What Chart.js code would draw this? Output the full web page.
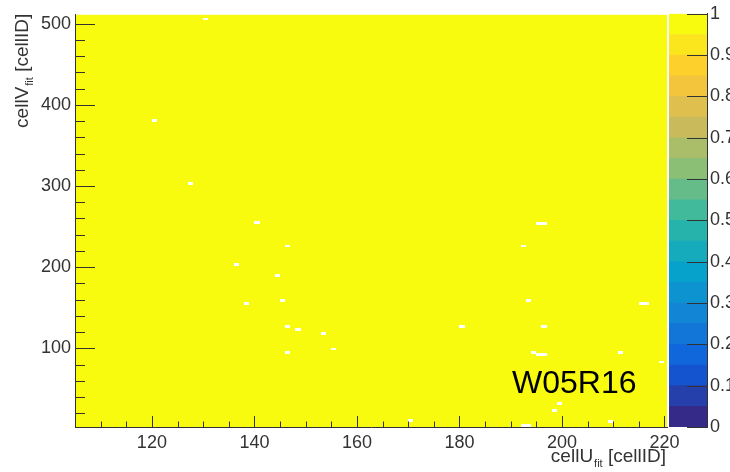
<!DOCTYPE html>
<html>
<head>
<meta charset="utf-8">
<script src="https://cdn.jsdelivr.net/npm/chart.js"></script>
<style>
body { margin: 0; background: #fff; }
#wrap { position: relative; width: 730px; height: 472px; }
#main { position: absolute; left: 0; top: 0; }
#zbar { position: absolute; left: 660px; top: 0; }
</style>
</head>
<body>
<div id="wrap">
  <canvas id="main" width="730" height="472"></canvas>
  <canvas id="zbar" width="70" height="472"></canvas>
</div>
<script>
// axis ticks
var xTicks = [120, 140, 160, 180, 200, 220];
var yTicks = [100, 200, 300, 400, 500];
var zTicks = [0, 0.1, 0.2, 0.3, 0.4, 0.5, 0.6, 0.7, 0.8, 0.9, 1];
var zTickLabels = ["0", "0.1", "0.2", "0.3", "0.4", "0.5", "0.6", "0.7", "0.8", "0.9", "1"];

// titles (main, subscript, rest)
var xTitle = ["cellU", "fit", " [cellID]"];
var yTitle = ["cellV", "fit", " [cellID]"];
var tag = "W05R16";

// every live cell reads 1, dead cells are empty
var liveValue = 1;
var deadU = [130, 120, 127, 140, 146, 136, 144, 145, 138, 146, 148, 153, 155, 146,
             195, 196, 192, 193, 215, 216, 180, 196, 194, 195, 196, 211, 219, 199,
             198, 170, 192, 193, 209];
var deadV = [505, 380, 302, 254, 225, 202, 189, 158, 154, 126, 122, 117, 98, 94,
             253, 253, 225, 158, 154, 154, 126, 126, 94, 91, 91, 94, 82, 31,
             22, 10, 4, 4, 9];
var nLevels = 20;

// kBird palette
var bird = [
  [0, 53, 42, 135], [0.125, 15, 92, 221], [0.25, 20, 129, 214], [0.375, 6, 164, 202],
  [0.5, 46, 183, 164], [0.625, 135, 191, 119], [0.75, 209, 187, 89], [0.875, 254, 200, 50],
  [1, 249, 251, 14]
];
function birdColor(t) {
  for (var i = 1; i < bird.length; i++) {
    if (t <= bird[i][0]) {
      var a = bird[i - 1], b = bird[i];
      var f = (t - a[0]) / (b[0] - a[0]);
      var c = [1, 2, 3].map(function (k) { return Math.round(a[k] + f * (b[k] - a[k])); });
      return "rgb(" + c.join(",") + ")";
    }
  }
  return "rgb(249,251,14)";
}

Chart.defaults.font.family = '"Liberation Sans", Arial, sans-serif';
Chart.defaults.font.size = 18;
Chart.defaults.color = "#333";

function drawTitle(ctx, parts) {
  ctx.font = '19px "Liberation Sans", Arial, sans-serif';
  var w0 = ctx.measureText(parts[0]).width;
  var w2 = ctx.measureText(parts[2]).width;
  ctx.font = '11px "Liberation Sans", Arial, sans-serif';
  var w1 = ctx.measureText(parts[1]).width;
  return {
    width: w0 + w1 + w2,
    draw: function () {
      ctx.textAlign = "left";
      ctx.textBaseline = "alphabetic";
      ctx.font = '19px "Liberation Sans", Arial, sans-serif';
      ctx.fillText(parts[0], 0, 0);
      ctx.font = '11px "Liberation Sans", Arial, sans-serif';
      ctx.fillText(parts[1], w0 + 1, 5);
      ctx.font = '19px "Liberation Sans", Arial, sans-serif';
      ctx.fillText(parts[2], w0 + w1 + 1, 0);
    }
  };
}

var mapPlugin = {
  id: "map",
  beforeDraw: function (chart) {
    var ctx = chart.ctx, a = chart.chartArea, x = chart.scales.x, y = chart.scales.y;
    ctx.save();
    ctx.fillStyle = birdColor(liveValue);
    ctx.fillRect(a.left, a.top, a.right - a.left, a.bottom - a.top);
    ctx.fillStyle = "#ffffff";
    for (var i = 0; i < deadU.length; i++) {
      var x0 = Math.round(x.getPixelForValue(deadU[i]));
      var x1 = Math.round(x.getPixelForValue(deadU[i] + 1));
      var y1 = Math.ceil(y.getPixelForValue(deadV[i]));
      var h = Math.max(2, y1 - Math.floor(y.getPixelForValue(deadV[i] + 2)));
      ctx.fillRect(x0, y1 - h, x1 - x0, h);
    }
    ctx.restore();
  },
  afterDraw: function (chart) {
    var ctx = chart.ctx, a = chart.chartArea, x = chart.scales.x, y = chart.scales.y;
    ctx.save();
    ctx.strokeStyle = "#333";
    ctx.lineWidth = 1;
    ctx.beginPath();
    var v, p;
    for (v = 105; v <= 220; v += 5) {
      p = Math.round(x.getPixelForValue(v)) + 0.5;
      var len = xTicks.indexOf(v) >= 0 ? 11 : 5.5;
      ctx.moveTo(p, a.bottom);
      ctx.lineTo(p, a.bottom - len);
    }
    for (v = 20; v <= 500; v += 20) {
      p = Math.round(y.getPixelForValue(v)) + 0.5;
      var ylen = yTicks.indexOf(v) >= 0 ? 20 : 10;
      ctx.moveTo(a.left, p);
      ctx.lineTo(a.left + ylen, p);
    }
    ctx.stroke();

    ctx.fillStyle = "#333";
    var xt = drawTitle(ctx, xTitle);
    ctx.save();
    ctx.translate(a.right - 2 - xt.width, 462);
    xt.draw();
    ctx.restore();

    var yt = drawTitle(ctx, yTitle);
    ctx.save();
    ctx.translate(28, a.top + yt.width);
    ctx.rotate(-Math.PI / 2);
    yt.draw();
    ctx.restore();

    ctx.fillStyle = "#000";
    ctx.font = '32px "Liberation Sans", Arial, sans-serif';
    ctx.textAlign = "left";
    ctx.textBaseline = "alphabetic";
    ctx.fillText(tag, 512, 393);
    ctx.restore();
  }
};

new Chart(document.getElementById("main"), {
  type: "scatter",
  data: { datasets: [{ data: deadU.map(function (u, i) { return { x: u, y: deadV[i] }; }), pointRadius: 0 }] },
  options: {
    responsive: false,
    animation: false,
    events: [],
    layout: { padding: { left: 0, top: 12, right: 63, bottom: 0 } },
    plugins: { legend: { display: false }, tooltip: { enabled: false } },
    scales: {
      x: {
        type: "linear",
        min: 105,
        max: 220.5,
        afterFit: function (s) { s.height = 45; },
        afterBuildTicks: function (s) { s.ticks = xTicks.map(function (v) { return { value: v }; }); },
        grid: { display: false, drawTicks: false },
        border: { color: "#333", width: 1 },
        ticks: { padding: 5, maxRotation: 0 }
      },
      y: {
        type: "linear",
        min: 3,
        max: 511,
        afterFit: function (s) { s.width = 75; },
        afterBuildTicks: function (s) { s.ticks = yTicks.map(function (v) { return { value: v }; }); },
        grid: { display: false, drawTicks: false },
        border: { color: "#333", width: 1 },
        ticks: { padding: 4 }
      }
    }
  },
  plugins: [mapPlugin]
});

// colour scale
var bands = [];
for (var i = 0; i < nLevels; i++) {
  bands.push({
    data: [1 / nLevels],
    backgroundColor: birdColor(i / (nLevels - 1)),
    borderWidth: 0,
    barPercentage: 1,
    categoryPercentage: 1
  });
}

var zTickPlugin = {
  id: "zticks",
  afterDraw: function (chart) {
    var ctx = chart.ctx, a = chart.chartArea, z = chart.scales.y;
    ctx.save();
    ctx.strokeStyle = "#333";
    ctx.lineWidth = 1;
    ctx.beginPath();
    zTicks.forEach(function (v) {
      var p = Math.round(z.getPixelForValue(v)) + 0.5;
      ctx.moveTo(a.right, p);
      ctx.lineTo(a.right - 20, p);
    });
    ctx.stroke();
    ctx.restore();
  }
};

new Chart(document.getElementById("zbar"), {
  type: "bar",
  data: { labels: ["z"], datasets: bands },
  options: {
    responsive: false,
    animation: false,
    events: [],
    layout: { padding: { left: 9, top: 12, right: 0, bottom: 45 } },
    plugins: { legend: { display: false }, tooltip: { enabled: false } },
    scales: {
      x: { stacked: true, display: false },
      y: {
        stacked: true,
        position: "right",
        min: 0,
        max: 1,
        afterFit: function (s) { s.width = 23; },
        afterBuildTicks: function (s) { s.ticks = zTicks.map(function (v) { return { value: v }; }); },
        grid: { display: false, drawTicks: false },
        border: { color: "#333", width: 1 },
        ticks: {
          padding: 3,
          callback: function (v) { return zTickLabels[zTicks.indexOf(v)]; }
        }
      }
    }
  },
  plugins: [zTickPlugin]
});
</script>
</body>
</html>
